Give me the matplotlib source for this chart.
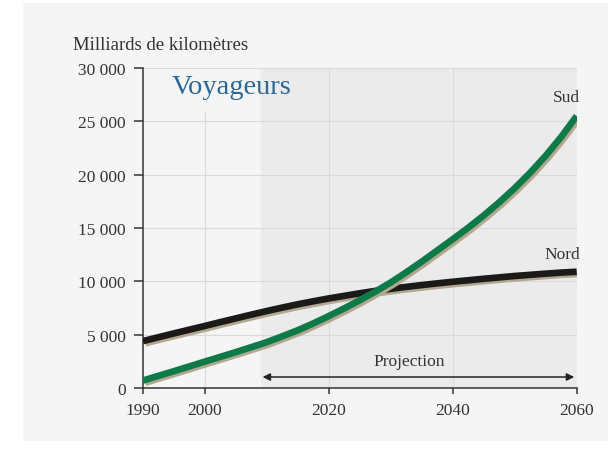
import matplotlib
matplotlib.use("Agg")
import matplotlib.pyplot as plt
import matplotlib.patheffects as pe
from matplotlib.patches import Rectangle

# data
years = [1990, 1992.5, 1995, 1997.5, 2000, 2002.5, 2005, 2007.5, 2010, 2012.5, 2015, 2017.5,
         2020, 2022.5, 2025, 2027.5, 2030, 2032.5, 2035, 2037.5, 2040, 2042.5, 2045, 2047.5,
         2050, 2052.5, 2055, 2057.5, 2060]
sud = [700, 1140, 1580, 2025, 2480, 2920, 3370, 3830, 4300, 4850, 5420, 6060,
       6750, 7470, 8230, 9040, 9900, 10850, 11850, 12900, 13950, 15030, 16180, 17410,
       18740, 20190, 21780, 23540, 25500]
nord = [4400, 4760, 5120, 5470, 5820, 6180, 6530, 6880, 7220, 7540, 7850, 8130,
        8400, 8640, 8880, 9100, 9300, 9480, 9650, 9810, 9960, 10100, 10240, 10370,
        10500, 10610, 10720, 10820, 10900]
yticks = [0, 5000, 10000, 15000, 20000, 25000, 30000]
xticks = [1990, 2000, 2020, 2040, 2060]
proj_start = 2009

serif = "Liberation Serif"
txt = "#333333"

fig = plt.figure(figsize=(6.08, 4.52), dpi=100, facecolor="white")
# light grey panel behind everything
fig.patches.append(Rectangle((23 / 608, 1 - 442 / 452), 1 - 23 / 608, (442 - 4) / 452,
                             transform=fig.transFigure, facecolor="#f5f5f5",
                             edgecolor="none", zorder=-10))

ax = fig.add_axes([143 / 608, 1 - 389 / 452, (576.7 - 143) / 608, (389 - 69) / 452])
ax.set_facecolor("none")
ax.set_xlim(1990, 2060)
ax.set_ylim(0, 30000)

# projection shading
ax.axvspan(proj_start, 2060, color="#ebebeb", zorder=0, lw=0)

# grid
for y in yticks[1:]:
    ax.axhline(y, color="#d9d9d9", lw=0.8, zorder=1)
ax.vlines(2000, 0, 26000, color="#d9d9d9", lw=0.8, zorder=1)
ax.vlines([2020, 2040], 0, 30000, color="#d9d9d9", lw=0.8, zorder=1)

shadow = [pe.SimpleLineShadow(offset=(1.6, -1.6), shadow_color="#b3a88f", alpha=1.0), pe.Normal()]
ax.plot(years, nord, color="#1c1a19", lw=4.8, solid_capstyle="butt", solid_joinstyle="round",
        zorder=3, path_effects=shadow)
ax.plot(years, sud, color="#0d7a47", lw=4.8, solid_capstyle="butt", solid_joinstyle="round",
        zorder=4, path_effects=shadow)

# spines and ticks
for s in ["top", "right"]:
    ax.spines[s].set_visible(False)
for s in ["left", "bottom"]:
    ax.spines[s].set_color("#333333")
    ax.spines[s].set_linewidth(1.1)
ax.set_yticks(yticks)
ax.set_yticklabels([f"{v:,}".replace(",", " ") for v in yticks])
ax.set_xticks(xticks)
ax.set_xticklabels([str(v) for v in xticks])
ax.tick_params(axis="both", width=1.1, color="#333333", labelcolor=txt, labelsize=12.5)
for lab in ax.get_xticklabels() + ax.get_yticklabels():
    lab.set_fontfamily(serif)
ax.tick_params(axis="x", length=4, pad=6)
ax.tick_params(axis="y", length=6.5, pad=6)

# texts
fig.text(73 / 608, 1 - 45 / 452, "Milliards de kilomètres", family=serif, fontsize=13.5,
         color=txt, ha="left", va="center")
ax.text(1994.7, 28300, "Voyageurs", family=serif, fontsize=20.5, color="#2b6896",
        ha="left", va="center")
ax.text(2060.5, 27300, "Sud", family=serif, fontsize=12.5, color=txt, ha="right", va="center")
ax.text(2060.5, 12600, "Nord", family=serif, fontsize=12.5, color=txt, ha="right", va="center")
ax.text(2033, 2550, "Projection", family=serif, fontsize=12.5, color=txt, ha="center", va="center")
ax.annotate("", xy=(2059.6, 1030), xytext=(proj_start + 0.3, 1030),
            arrowprops=dict(arrowstyle="<|-|>", color="#222222", lw=1.1,
                            mutation_scale=11, shrinkA=0, shrinkB=0))

fig.savefig("out.png", dpi=100, facecolor=fig.get_facecolor())
